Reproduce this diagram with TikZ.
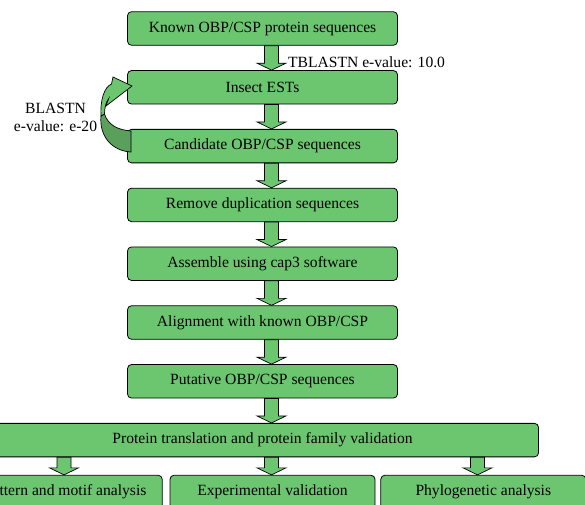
\documentclass[tikz,border=0pt]{standalone}
\usepackage{fontspec}
\setmainfont{Liberation Serif}
\usepackage{tikz}
\usetikzlibrary{calc, positioning}

\definecolor{boxgreen}{RGB}{108,198,112}
\definecolor{loopgreen}{RGB}{90,160,92}

% block arrow between two boxes: #1 = x, #2 = upper node, #3 = lower node
\newcommand\flowarrow[3]{%
  \path (#1,0 |- #2.south) coordinate (fa-top) (#1,0 |- #3.north) coordinate (fa-tip);
  \draw[blockarrow] ($(fa-top)+(-7,0)$) -- ($(fa-tip)+(-7,-7)$) -- ($(fa-tip)+(-14.5,-7)$)
    -- (fa-tip) -- ($(fa-tip)+(14.5,-7)$) -- ($(fa-tip)+(7,-7)$) -- ($(fa-top)+(7,0)$) -- cycle;}

\begin{document}
\begin{tikzpicture}[
    x=1pt, y=-1pt,
    node distance=24.5pt,
    every node/.style={font=\fontsize{15.6}{18}\selectfont},
    stepbox/.style={draw, fill=boxgreen, rounded corners=4pt, line width=0.8pt,
      minimum width=270pt, minimum height=33.5pt, inner sep=2pt},
    blockarrow/.style={draw, fill=boxgreen, line width=0.7pt, line join=miter},
    looparrow/.style={draw, line width=0.7pt, line join=miter},
    note/.style={inner sep=1pt},
  ]
  \useasboundingbox (0,0) rectangle (585,504);

  \node[stepbox] (known) at (262.5,28.5) {Known OBP/CSP protein sequences};
  \node[stepbox, below=of known] (ests) {Insect ESTs};
  \node[stepbox, below=of ests] (cand) {Candidate OBP/CSP sequences};
  \node[stepbox, below=of cand] (dup) {Remove duplication sequences};
  \node[stepbox, below=of dup] (cap) {Assemble using cap3 software};
  \node[stepbox, below=of cap] (align) {Alignment with known OBP/CSP};
  \node[stepbox, below=of align] (putative) {Putative OBP/CSP sequences};
  \node[stepbox, below=of putative, minimum width=552pt] (trans)
    {Protein translation and protein family validation};

  \node[stepbox, minimum width=205pt] (exper) at (272.5,492) {Experimental validation};
  \node[stepbox, minimum width=194pt, left=7pt of exper] (motif) {Pattern and motif analysis};
  \node[stepbox, minimum width=205pt, right=5pt of exper] (phylo) {Phylogenetic analysis};

  \flowarrow{271.5}{known}{ests}
  \flowarrow{271.5}{ests}{cand}
  \flowarrow{271.5}{cand}{dup}
  \flowarrow{271.5}{dup}{cap}
  \flowarrow{271.5}{cap}{align}
  \flowarrow{271.5}{align}{putative}
  \flowarrow{271.5}{putative}{trans}
  \flowarrow{64}{trans}{motif}
  \flowarrow{271.5}{trans}{exper}
  \flowarrow{477.5}{trans}{phylo}

  \node[note, anchor=west] (tblastn) at (287,62) {TBLASTN e-value: 10.0};
  \node[note, align=center] (blastn) at (55.5,117) {BLASTN\\e-value: e-20};

  % curved loop from the candidates back to the ESTs
  \draw[looparrow, fill=loopgreen] (101,116) .. controls (99,136) and (112,151) .. (131,152)
    -- (131,131) .. controls (118,130) and (108,125) .. (104.5,114) -- cycle;
  \draw[looparrow, fill=boxgreen] (101,116) .. controls (100,101) and (104,87) .. (111.5,84)
    -- (113,77) -- (132,86) -- (106,106) -- (108.5,99) .. controls (106,102) and (104.5,108) .. (104.5,114) -- cycle;
\end{tikzpicture}
\end{document}
